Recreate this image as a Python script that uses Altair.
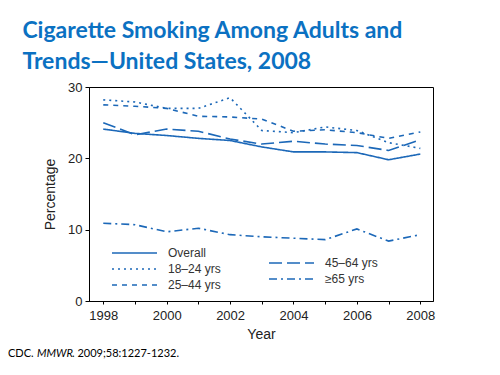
import altair as alt
import pandas as pd

years = list(range(1998, 2009))
overall = [24.1, 23.5, 23.2, 22.8, 22.5, 21.6, 20.9, 20.9, 20.8, 19.8, 20.6]
age_18_24 = [28.2, 27.9, 27.0, 27.0, 28.5, 23.9, 23.6, 24.4, 23.9, 22.2, 21.4]
age_25_44 = [27.5, 27.3, 27.0, 25.9, 25.8, 25.5, 23.8, 24.0, 23.6, 22.8, 23.7]
age_45_64 = [25.0, 23.3, 24.1, 23.8, 22.7, 22.0, 22.4, 22.0, 21.8, 21.1, 22.6]
age_65 = [10.9, 10.7, 9.7, 10.2, 9.3, 9.0, 8.8, 8.6, 10.1, 8.4, 9.3]

labels_a = ["Overall", "18–24 yrs", "25–44 yrs"]
labels_b = ["45–64 yrs", "≥65 yrs"]
dashes_a = [[1, 0], [2, 4], [5, 5]]
dashes_b = [[13, 5], [8, 4, 2, 4]]

title_lines = ["Cigarette Smoking Among Adults and", "Trends—United States, 2008"]
foot_parts = ["CDC. ", "MMWR", ". 2009;58:1227-1232."]

LINE = "#1c68b8"
TITLE = "#0B71C2"
AXFONT = "Liberation Sans"


def long_df(names, series):
    rows = []
    for n, s in zip(names, series):
        for yr, v in zip(years, s):
            rows.append({"series": n, "year": yr, "value": v})
    return pd.DataFrame(rows)


df_a = long_df(labels_a, [overall, age_18_24, age_25_44])
df_b = long_df(labels_b, [age_45_64, age_65])

x_enc = alt.X(
    "year:Q",
    scale=alt.Scale(domain=[1997.55, 2008.4], nice=False, zero=False),
    axis=alt.Axis(
        values=years,
        format="d",
        labelExpr="datum.value % 2 == 0 ? datum.label : ''",
        title="Year",
        tickSize=3,
        labelPadding=5,
        titlePadding=5,
    ),
)
y_enc = alt.Y(
    "value:Q",
    scale=alt.Scale(domain=[0, 30], nice=False),
    axis=alt.Axis(values=[0, 10, 20, 30], title="Percentage", tickSize=4,
                  labelPadding=3, titlePadding=10),
)


def legend(x, y):
    return alt.Legend(
        title=None,
        orient="none",
        legendX=x,
        legendY=y,
        symbolType="stroke",
        symbolSize=2025,
        symbolStrokeWidth=1.6,
        symbolStrokeColor=LINE,
        clipHeight=14,
        rowPadding=2,
        labelFont=AXFONT,
        labelFontSize=12,
        labelColor="#333333",
        labelOffset=10,
        padding=0,
    )


lines_a = alt.Chart(df_a).mark_line(color=LINE, strokeWidth=1.6).encode(
    x=x_enc,
    y=y_enc,
    strokeDash=alt.StrokeDash(
        "series:N",
        scale=alt.Scale(domain=labels_a, range=dashes_a),
        sort=labels_a,
        legend=legend(22, 159),
    ),
)
lines_b = alt.Chart(df_b).mark_line(color=LINE, strokeWidth=1.6).encode(
    x=x_enc,
    y=y_enc,
    strokeDash=alt.StrokeDash(
        "series:N",
        scale=alt.Scale(domain=labels_b, range=dashes_b),
        sort=labels_b,
        legend=legend(179, 169),
    ),
)

foot_style = dict(align="left", baseline="alphabetic", font="Lato", fontSize=11, color="#000000")
foot1 = alt.Chart(pd.DataFrame({"t": [foot_parts[0]]})).mark_text(**foot_style).encode(
    x=alt.value(-81), y=alt.value(270), text="t:N")
foot2 = alt.Chart(pd.DataFrame({"t": [foot_parts[1]]})).mark_text(
    fontStyle="italic", **foot_style).encode(x=alt.value(-52), y=alt.value(270), text="t:N")
foot3 = alt.Chart(pd.DataFrame({"t": [foot_parts[2]]})).mark_text(**foot_style).encode(
    x=alt.value(-17), y=alt.value(270), text="t:N")

chart = (
    alt.layer(lines_a, lines_b, foot1, foot2, foot3)
    .resolve_scale(strokeDash="independent")
    .properties(
        width=344,
        height=214,
        padding={"left": 81, "top": 79, "right": 50, "bottom": 66},
        autosize=alt.AutoSizeParams(type="none"),
        title=alt.TitleParams(
            text=title_lines,
            anchor="start",
            frame="group",
            dx=-66.6,
            dy=30,
            font="Lato",
            fontSize=23,
            fontWeight="bold",
            color=TITLE,
            lineHeight=31,
            baseline="bottom",
            offset=14,
        ),
    )
    .configure_view(stroke="#000000", strokeWidth=1)
    .configure_axis(
        domainColor="#000000",
        tickColor="#000000",
        labelColor="#222222",
        titleColor="#222222",
        labelFont=AXFONT,
        titleFont=AXFONT,
        labelFontSize=13,
        titleFontSize=14,
        titleFontWeight="normal",
        grid=False,
    )
)

chart.save("out.html", embed_options={"renderer": "svg", "actions": False})
